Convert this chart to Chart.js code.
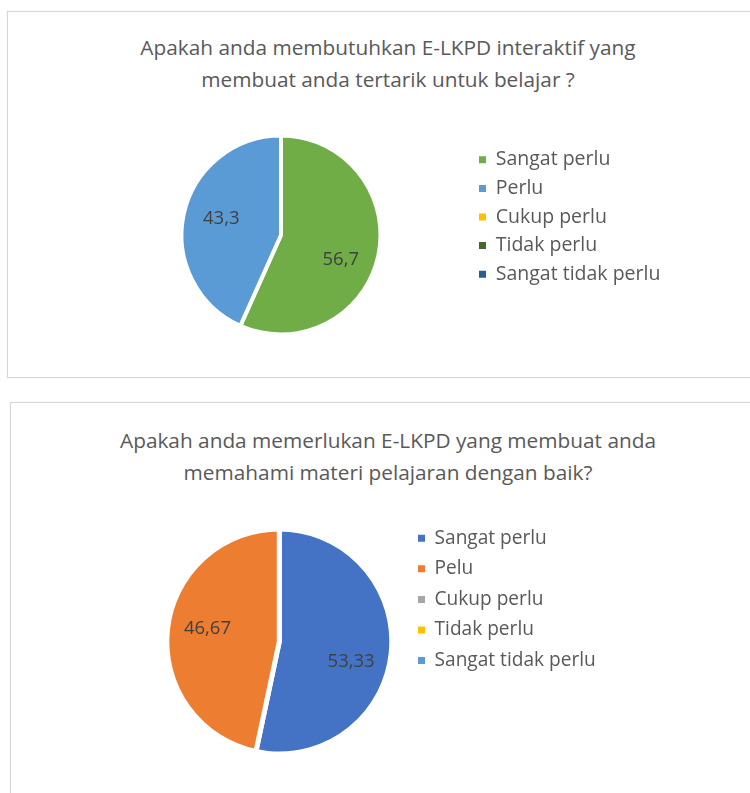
<!DOCTYPE html>
<html><head><meta charset="utf-8">
<script src="https://cdn.jsdelivr.net/npm/chart.js@4.4.1/dist/chart.umd.min.js"></script>
<style>
html,body{margin:0;padding:0;background:#fff;width:750px;height:793px;overflow:hidden;position:relative;font-family:"Open Sans", sans-serif}
.panel{position:absolute;border:1px solid #d6d6d6;box-shadow:0 0 1px #e6e6e6;background:#fff}
.title{position:absolute;text-align:center;color:#595959;font-size:20.8px;line-height:32px;white-space:nowrap}
canvas{position:absolute}
</style></head><body>
<div class="panel" style="left:7px;top:11px;width:780px;height:365px"></div>
<div class="panel" style="left:10px;top:402px;width:780px;height:420px"></div>
<div class="title" id="t1" style="left:8px;top:31px;width:760px"></div>
<div class="title" id="t2" style="left:8px;top:424px;width:760px"></div>
<canvas id="c1" width="742" height="365" style="left:8px;top:12px"></canvas>
<canvas id="c2" width="739" height="390" style="left:11px;top:403px"></canvas>
<script>
// ---- data ----
const title1 = ['Apakah anda membutuhkan E-LKPD interaktif yang', 'membuat anda tertarik untuk belajar ?'];
const categories1 = ['Sangat perlu', 'Perlu', 'Cukup perlu', 'Tidak perlu', 'Sangat tidak perlu'];
const values1 = [56.7, 43.3, 0, 0, 0];
const colors1 = ['#70AD47', '#5B9BD5', '#FFC000', '#43682B', '#255E91'];

const title2 = ['Apakah anda memerlukan E-LKPD yang membuat anda', 'memahami materi pelajaran dengan baik?'];
const categories2 = ['Sangat perlu', 'Pelu', 'Cukup perlu', 'Tidak perlu', 'Sangat tidak perlu'];
const values2 = [53.33, 46.67, 0, 0, 0];
const colors2 = ['#4472C4', '#ED7D31', '#A5A5A5', '#FFC000', '#5B9BD5'];

const FONT = 'Open Sans';
const BOX = 7;

// ---- titles (real text) ----
function setTitle(id, lines) {
  const el = document.getElementById(id);
  lines.forEach(l => { const d = document.createElement('div'); d.textContent = l; el.appendChild(d); });
}
setTitle('t1', title1);
setTitle('t2', title2);

// ---- value labels inside slices ----
const sliceLabels = {
  id: 'sliceLabels',
  afterDatasetsDraw(chart, args, opts) {
    const ctx = chart.ctx;
    const meta = chart.getDatasetMeta(0);
    const data = chart.data.datasets[0].data;
    ctx.save();
    ctx.font = opts.size + 'px "' + FONT + '"';
    ctx.fillStyle = '#404040';
    ctx.textAlign = 'center';
    ctx.textBaseline = 'middle';
    meta.data.forEach((arc, i) => {
      const v = data[i];
      if (!v) return;
      const p = arc.getProps(['x', 'y', 'startAngle', 'endAngle', 'outerRadius'], true);
      const mid = (p.startAngle + p.endAngle) / 2 + opts.turn;
      const r = p.outerRadius * opts.factor;
      ctx.fillText(String(v).replace('.', ','), p.x + Math.cos(mid) * r, p.y + Math.sin(mid) * r + opts.dy);
    });
    ctx.restore();
  }
};

const measureCtx = document.createElement('canvas').getContext('2d');
function legendWidth(labels, pad, size) {
  measureCtx.font = size + 'px "' + FONT + '"';
  const tw = Math.max(...labels.map(l => measureCtx.measureText(l).width));
  return pad + BOX + size / 2 + tw + 10;
}

function makePie(id, labels, values, colors, cfg) {
  const canvas = document.getElementById(id);
  const W = canvas.width;
  const lw = legendWidth(labels, cfg.legendPadding, cfg.legendSize);
  const legendLeft = cfg.boxLeft - cfg.legendPadding;
  const padRight = W - legendLeft - lw;
  const padLeft = 2 * cfg.cx - legendLeft;
  return new Chart(canvas, {
    type: 'pie',
    data: {
      labels: labels,
      datasets: [{
        data: values,
        backgroundColor: colors,
        borderColor: '#ffffff',
        borderWidth: cfg.border,
        radius: cfg.radius,
        clip: false
      }]
    },
    options: {
      responsive: false,
      animation: false,
      devicePixelRatio: 1,
      layout: { padding: { top: cfg.top, bottom: cfg.bottom, left: padLeft, right: padRight } },
      plugins: {
        tooltip: { enabled: false },
        title: { display: false },
        sliceLabels: { factor: cfg.labelFactor, turn: 0.12, size: 18.5, dy: 4 },
        legend: {
          display: true,
          position: 'right',
          align: 'start',
          labels: {
            boxWidth: BOX,
            boxHeight: BOX,
            padding: cfg.legendPadding,
            color: '#595959',
            font: { family: FONT, size: cfg.legendSize },
            generateLabels: (chart) => Chart.overrides.pie.plugins.legend.labels.generateLabels(chart)
              .map(l => Object.assign(l, { lineWidth: 0 }))
          }
        }
      }
    },
    plugins: [sliceLabels]
  });
}

makePie('c1', categories1, values1, colors1, {
  border: 4, radius: 99.5, labelFactor: 0.635, legendPadding: 9.1, legendSize: 19.5,
  top: 128.95, bottom: 47.95, cx: 273, boxLeft: 471
});
makePie('c2', categories2, values2, colors2, {
  border: 5, radius: 112.5, labelFactor: 0.655, legendPadding: 11.5, legendSize: 19.1,
  top: 114.15, bottom: 27.15, cx: 268.3, boxLeft: 407
});
</script>
</body></html>
